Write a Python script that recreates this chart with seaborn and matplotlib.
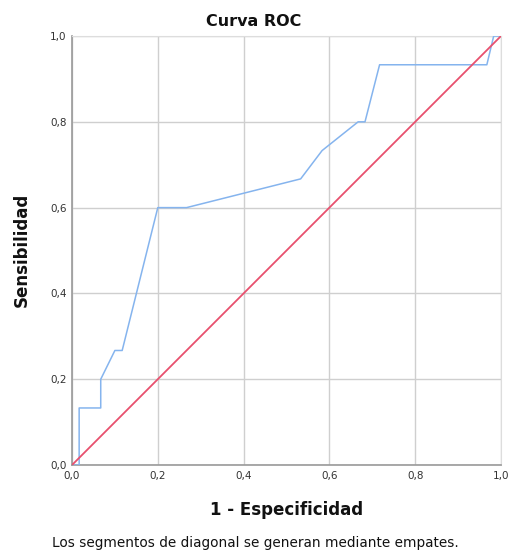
import numpy as np
import pandas as pd
import matplotlib
matplotlib.use("Agg")
import matplotlib.pyplot as plt
import seaborn as sns
from matplotlib.ticker import FuncFormatter

# ROC curve points (1 - specificity, sensitivity)
fpr = [0.0, 0.0167, 0.0167, 0.067, 0.067, 0.10, 0.117, 0.20, 0.267,
       0.533, 0.583, 0.667, 0.683, 0.717, 0.967, 0.983, 1.0]
tpr = [0.0, 0.0, 0.133, 0.133, 0.20, 0.267, 0.267, 0.60, 0.60,
       0.667, 0.733, 0.80, 0.80, 0.933, 0.933, 1.0, 1.0]
ref_x = [0.0, 1.0]
ref_y = [0.0, 1.0]
ticks = [0.0, 0.2, 0.4, 0.6, 0.8, 1.0]

sns.set_style("white")
plt.rcParams['font.family'] = ['DejaVu Sans']

fig = plt.figure(figsize=(5.12, 5.5), dpi=100)
ax = fig.add_axes([0.1406, 0.1545, 0.8379, 0.78])

roc = pd.DataFrame({"x": fpr, "y": tpr})
ref = pd.DataFrame({"x": ref_x, "y": ref_y})
sns.lineplot(data=roc, x="x", y="y", sort=False, estimator=None,
             color="#85b4ee", lw=1.1, ax=ax, zorder=3)
sns.lineplot(data=ref, x="x", y="y", sort=False, estimator=None,
             color="#e8506e", lw=1.3, ax=ax, zorder=4)

ax.set_xlim(0, 1)
ax.set_ylim(0, 1)
ax.set_xticks(ticks)
ax.set_yticks(ticks)
fmt = FuncFormatter(lambda v, p: f"{v:.1f}".replace(".", ","))
ax.xaxis.set_major_formatter(fmt)
ax.yaxis.set_major_formatter(fmt)
ax.tick_params(length=0, labelsize=7.5, colors="#333333")
ax.tick_params(axis="x", pad=4)
ax.tick_params(axis="y", pad=4)
ax.grid(True, color="#cfcfcf", lw=1.0)
ax.set_axisbelow(True)
ax.set_xlabel("")
ax.set_ylabel("")

for side in ["top", "right"]:
    ax.spines[side].set_color("#dddddd")
    ax.spines[side].set_linewidth(0.8)
for side in ["left", "bottom"]:
    ax.spines[side].set_color("#999999")
    ax.spines[side].set_linewidth(1.2)

fig.text(0.496, 0.96, "Curva ROC", ha="center", va="center",
         fontsize=11.5, fontweight="bold", color="#111111")
fig.text(0.56, 0.073, "1 - Especificidad", ha="center", va="center",
         fontsize=12, fontweight="bold", color="#111111")
fig.text(0.043, 0.545, "Sensibilidad", ha="center", va="center", rotation=90,
         fontsize=12, fontweight="bold", color="#111111")
fig.text(0.498, 0.013, "Los segmentos de diagonal se generan mediante empates.",
         ha="center", va="center", fontsize=9.8, color="#111111")

fig.savefig("out.png", dpi=100)
